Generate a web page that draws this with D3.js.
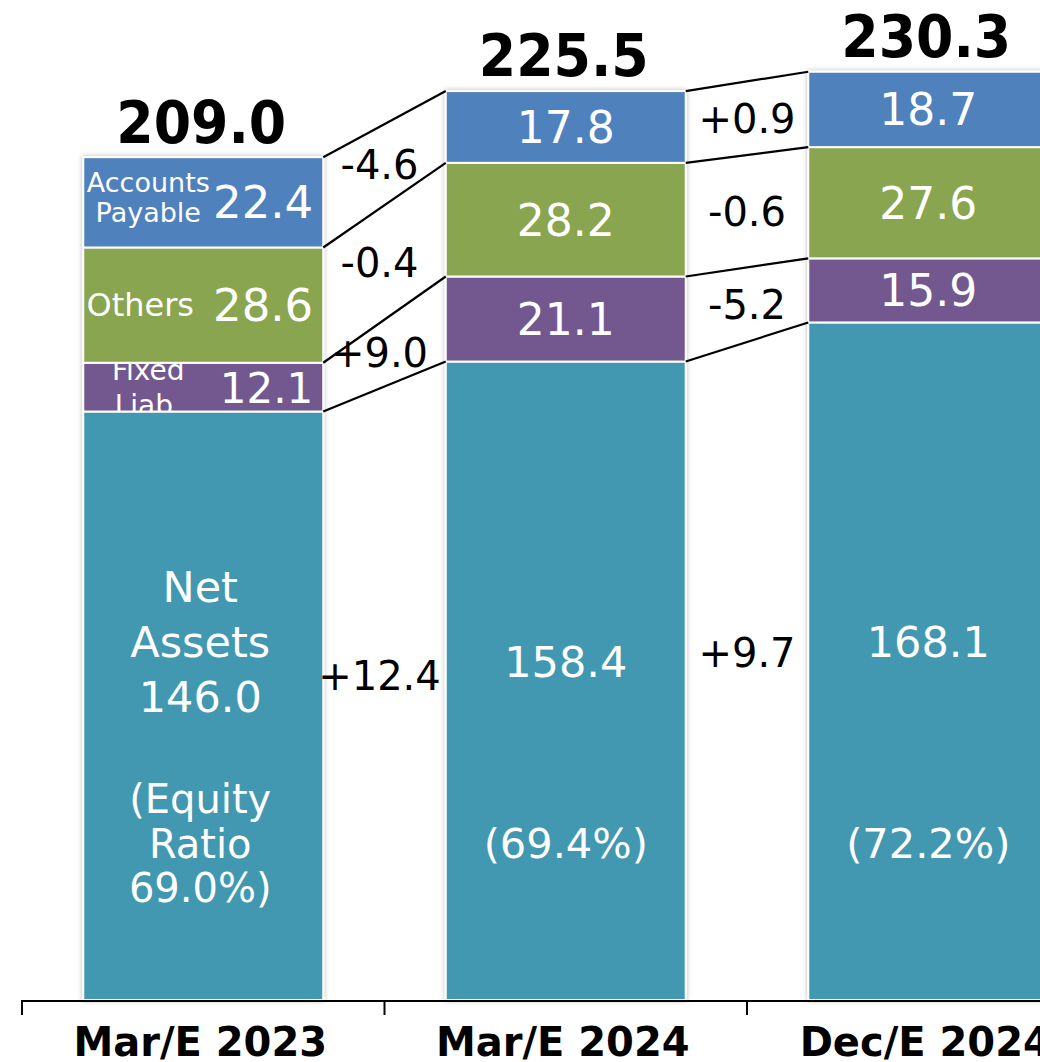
<!DOCTYPE html>
<html>
<head>
<meta charset="utf-8">
<script src="https://cdn.jsdelivr.net/npm/d3@7"></script>
<style>
	html, body { margin: 0; padding: 0; background: #fff; overflow: hidden; }
	svg { display: block; font-family: "DejaVu Sans", Verdana, sans-serif; }
</style>
</head>
<body>
<svg id="chart" width="1040" height="1062"></svg>
<script>
// balance sheet (liabilities & net assets), billion yen
const categories = ["Mar/E 2023", "Mar/E 2024", "Dec/E 2024"]
const netAssets = [146.0, 158.4, 168.1]
const fixedLiab = [12.1, 21.1, 15.9]
const others = [28.6, 28.2, 27.6]
const accountsPayable = [22.4, 17.8, 18.7]
const totals = [209.0, 225.5, 230.3]
const equityRatio = ["69.0%", "69.4%", "72.2%"]

const keys = ["net", "fixed", "others", "ap"]
const colors = { net: "#4398b0", fixed: "#72598f", others: "#8aa54f", ap: "#4f81bd" }
// names shown inside the first column only
const firstLabels = {
	ap: { lines: ["Accounts", "Payable"], fs: 27, lh: 30, dx: 65, dy: 5 },
	others: { lines: ["Others"], fs: 32, lh: 0, dx: 57, dy: 11 },
	fixed: { lines: ["Fixed", "Liab."], fs: 28, lh: 35, dx: 65, dy: 10 }
}

const rows = categories.map((c, i) => ({
	cat: c,
	net: netAssets[i],
	fixed: fixedLiab[i],
	others: others[i],
	ap: accountsPayable[i]
}))

const svg = d3.select("#chart")

const x = d3.scaleBand()
	.domain(categories)
	.range([22, 1109.5])
	.paddingInner(0.338)
	.paddingOuter(0.169)
const y = d3.scaleLinear()
	.domain([0, 248.1])
	.range([1000, 0])
const bw = x.bandwidth()

const series = d3.stack().keys(keys)(rows)

// soft shadow around each column
const defs = svg.append("defs")
defs.append("filter")
	.attr("id", "shadow")
	.attr("x", "-10%").attr("y", "-5%")
	.attr("width", "120%").attr("height", "110%")
	.append("feDropShadow")
	.attr("dx", 0).attr("dy", 0)
	.attr("stdDeviation", 2.5)
	.attr("flood-color", "#000")
	.attr("flood-opacity", 0.28)

// columns
svg.append("g")
	.selectAll("g")
	.data(rows)
	.join("g")
	.attr("filter", "url(#shadow)")
	.each(function(r, i) {
		d3.select(this)
			.selectAll("rect")
			.data(series.map(s => ({ key: s.key, d: s[i] })))
			.join("rect")
			.attr("x", x(r.cat))
			.attr("width", bw)
			.attr("y", s => y(s.d[1]))
			.attr("height", s => y(s.d[0]) - y(s.d[1]))
			.attr("fill", s => colors[s.key])
			.attr("stroke", "#fff")
			.attr("stroke-width", 2)
	})

// connector lines between segment tops
const links = []
for (let i = 0; i < rows.length - 1; i++) {
	series.forEach((s, k) => {
		links.push({
			k: k, i: i,
			x1: x(categories[i]) + bw, y1: y(s[i][1]),
			x2: x(categories[i + 1]), y2: y(s[i + 1][1]),
			d: s[i + 1].data[s.key] - s[i].data[s.key]
		})
	})
}
svg.append("g")
	.selectAll("line")
	.data(links)
	.join("line")
	.attr("x1", l => l.x1).attr("y1", l => l.y1)
	.attr("x2", l => l.x2).attr("y2", l => l.y2)
	.attr("stroke", "#000")
	.attr("stroke-width", 2.2)

// change labels, centred between a segment's connector and the one below it
const fmtDelta = d => (d > 0 ? "+" : "") + d.toFixed(1)
const lineMid = l => (l.y1 + l.y2) / 2
const deltaY = l => {
	const top = lineMid(l)
	if (l.k === 0) return (top + y(0)) / 2 - 18
	const below = lineMid(links.find(o => o.i === l.i && o.k === l.k - 1))
	return (top + below) / 2
}
svg.append("g")
	.selectAll("text")
	.data(links)
	.join("text")
	.attr("x", l => (l.x1 + l.x2) / 2 - (l.i === 0 ? 5 : 0))
	.attr("y", deltaY)
	.attr("dy", "0.36em")
	.attr("text-anchor", "middle")
	.attr("font-size", 40)
	.attr("fill", "#000")
	.text(l => fmtDelta(l.d))

// segment values
const labels = svg.append("g").attr("fill", "#fff")
rows.forEach((r, i) => {
	const cx = x(r.cat) + bw / 2
	series.forEach(s => {
		const d = s[i]
		const top = y(d[1]), bot = y(d[0]), mid = (top + bot) / 2
		const v = r[s.key].toFixed(1)
		if (s.key === "net") {
			const g = labels.append("g").attr("text-anchor", "middle")
			if (i === 0) {
				["Net", "Assets", v].forEach((t, j) => {
					g.append("text").attr("x", cx - 3).attr("y", mid + 6 - (2 - j) * 55)
						.attr("font-size", 43).text(t)
				})
				;["(Equity", "Ratio", equityRatio[i] + ")"].forEach((t, j) => {
					g.append("text").attr("x", cx - 3).attr("y", y(0) - 187 + j * 44.5)
						.attr("font-size", 40).text(t)
				})
			} else {
				g.append("text").attr("x", cx).attr("y", mid - 4).attr("font-size", 43).text(v)
				g.append("text").attr("x", cx).attr("y", y(0) - 142).attr("font-size", 41.5)
					.text("(" + equityRatio[i] + ")")
			}
			return
		}
		if (i === 0) {
			const clipId = "clip-" + s.key
			defs.append("clipPath").attr("id", clipId)
				.append("rect")
				.attr("x", x(r.cat)).attr("y", top)
				.attr("width", bw).attr("height", bot - top)
			const g = labels.append("g").attr("clip-path", "url(#" + clipId + ")")
			const lab = firstLabels[s.key]
			lab.lines.forEach((t, j) => {
				g.append("text")
					.attr("x", x(r.cat) + lab.dx)
					.attr("y", mid + lab.dy + (j - (lab.lines.length - 1) / 2) * lab.lh)
					.attr("text-anchor", "middle")
					.attr("font-size", lab.fs)
					.text(t)
			})
			g.append("text")
				.attr("x", x(r.cat) + bw - 10)
				.attr("y", mid + 16)
				.attr("text-anchor", "end")
				.attr("font-size", s.key === "fixed" ? 42 : 45)
				.text(v)
		} else {
			labels.append("text")
				.attr("x", cx)
				.attr("y", mid + 16)
				.attr("text-anchor", "middle")
				.attr("font-size", 44)
				.text(v)
		}
	})
})

// totals above the columns
svg.append("g")
	.selectAll("text")
	.data(rows)
	.join("text")
	.attr("x", r => x(r.cat) + bw / 2 - 2)
	.attr("y", (r, i) => y(totals[i]) - 15)
	.attr("text-anchor", "middle")
	.attr("font-size", 58)
	.attr("font-weight", "bold")
	.attr("textLength", 170)
	.attr("lengthAdjust", "spacingAndGlyphs")
	.text((r, i) => totals[i].toFixed(1))

// category axis with ticks on the band boundaries
const axis = svg.append("g")
axis.append("line")
	.attr("x1", 22).attr("x2", 1040)
	.attr("y1", y(0) + 1).attr("y2", y(0) + 1)
	.attr("stroke", "#000").attr("stroke-width", 2)
axis.selectAll(".tick")
	.data(categories)
	.join("line")
	.attr("class", "tick")
	.attr("x1", c => x(c) - x.step() * x.paddingInner() / 2)
	.attr("x2", c => x(c) - x.step() * x.paddingInner() / 2)
	.attr("y1", y(0)).attr("y2", y(0) + 15)
	.attr("stroke", "#000").attr("stroke-width", 2)
axis.selectAll(".cat")
	.data(categories)
	.join("text")
	.attr("class", "cat")
	.attr("x", c => x(c) + bw / 2 - 3)
	.attr("y", 1056)
	.attr("text-anchor", "middle")
	.attr("font-size", 40)
	.attr("font-weight", "bold")
	.text(c => c)
</script>
</body>
</html>
